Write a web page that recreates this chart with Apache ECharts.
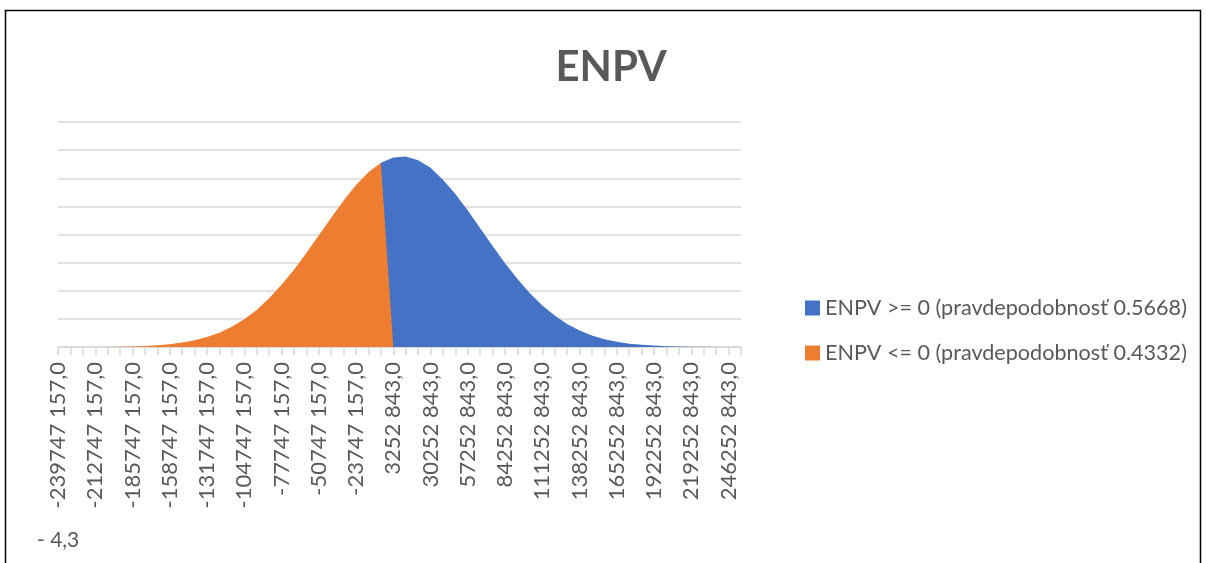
<!DOCTYPE html>
<html>
<head>
<meta charset="utf-8">
<script src="https://cdn.jsdelivr.net/npm/echarts@6/dist/echarts.min.js"></script>
<style>
html,body{margin:0;padding:0;background:#fff;}
#c{width:1206px;height:563px;}
</style>
</head>
<body>
<div id="c"></div>
<script>
const categories = [
"-239747 157,0","-230747 157,0","-221747 157,0","-212747 157,0","-203747 157,0","-194747 157,0",
"-185747 157,0","-176747 157,0","-167747 157,0","-158747 157,0","-149747 157,0","-140747 157,0",
"-131747 157,0","-122747 157,0","-113747 157,0","-104747 157,0","-95747 157,0","-86747 157,0",
"-77747 157,0","-68747 157,0","-59747 157,0","-50747 157,0","-41747 157,0","-32747 157,0",
"-23747 157,0","-14747 157,0","-5747 157,0","3252 843,0","12252 843,0","21252 843,0",
"30252 843,0","39252 843,0","48252 843,0","57252 843,0","66252 843,0","75252 843,0",
"84252 843,0","93252 843,0","102252 843,0","111252 843,0","120252 843,0","129252 843,0",
"138252 843,0","147252 843,0","156252 843,0","165252 843,0","174252 843,0","183252 843,0",
"192252 843,0","201252 843,0","210252 843,0","219252 843,0","228252 843,0","237252 843,0",
"246252 843,0","255252 843,0"
];

const seriesNames = ["ENPV >= 0 (pravdepodobnosť 0.5668)", "ENPV <= 0 (pravdepodobnosť 0.4332)"];

// ENPV >= 0 (blue): empty before category 26
const positiveValues = [
null,null,null,null,null,null,null,null,null,null,
null,null,null,null,null,null,null,null,null,null,
null,null,null,null,null,null,
6.55,6.74,6.77,6.64,6.37,5.95,5.44,4.85,4.22,3.59,
2.98,2.42,1.91,1.48,1.12,0.82,0.59,0.41,0.28,0.19,
0.12,0.08,0.05,0.03,0.018,0.01,0.006,0.003,0.002,0.001
];

// ENPV <= 0 (orange): ends at category 27
const negativeValues = [
0,0,0,0.001,0.002,0.008,0.018,0.035,0.06,0.1,
0.16,0.24,0.36,0.51,0.72,0.99,1.32,1.73,2.21,2.75,
3.34,3.97,4.60,5.21,5.76,6.21,6.55,0,
null,null,null,null,null,null,null,null,null,null,
null,null,null,null,null,null,null,null,null,null,
null,null,null,null,null,null,null,null
];

const FONT = 'Lato, "Open Sans", sans-serif';
const TXT = '#595959';

const chart = echarts.init(document.getElementById('c'), null, {renderer: 'canvas'});
chart.setOption({
  animation: false,
  backgroundColor: '#fff',
  title: {
    text: 'ENPV',
    left: 606, top: 62, textAlign: 'center', textVerticalAlign: 'middle',
    textStyle: {fontFamily: FONT, fontWeight: 'bold', fontSize: 42, color: TXT}
  },
  legend: {
    orient: 'vertical',
    left: 800, top: 292,
    itemWidth: 15, itemHeight: 15, itemGap: 23,
    icon: 'rect',
    data: seriesNames,
    textStyle: {fontFamily: FONT, fontSize: 21.6, color: TXT, padding: [0,0,0,0]}
  },
  grid: {left: 58, top: 122, width: 683, height: 225, containLabel: false},
  xAxis: {
    type: 'category',
    data: categories,
    boundaryGap: false,
    axisLine: {lineStyle: {color: '#d9d9d9', width: 1.5}},
    axisTick: {show: true, interval: 0, length: 8, lineStyle: {color: '#d9d9d9', width: 1.5}},
    axisLabel: {interval: 2, rotate: 90, margin: 15, fontFamily: FONT, fontSize: 22, color: TXT},
    splitLine: {show: false}
  },
  yAxis: {
    type: 'value',
    min: 0, max: 8, interval: 1,
    axisLine: {show: false},
    axisTick: {show: false},
    axisLabel: {show: false},
    splitLine: {lineStyle: {color: '#d9d9d9', width: 1.5}}
  },
  series: [
    {
      name: seriesNames[0], type: 'line', data: positiveValues,
      symbol: 'none', showSymbol: false, connectNulls: false,
      lineStyle: {width: 0}, itemStyle: {color: '#4472C4'},
      areaStyle: {color: '#4472C4', opacity: 1}
    },
    {
      name: seriesNames[1], type: 'line', data: negativeValues,
      symbol: 'none', showSymbol: false, connectNulls: false,
      lineStyle: {width: 0}, itemStyle: {color: '#ED7D31'},
      areaStyle: {color: '#ED7D31', opacity: 1}
    }
  ],
  graphic: [
    {type: 'rect', shape: {x: 5.5, y: 10.5, width: 1195, height: 600},
     style: {fill: 'none', stroke: '#000', lineWidth: 1.5}, silent: true},
    {type: 'text', left: 37, top: 530,
     style: {text: '- 4,3', font: '21px ' + FONT, fill: TXT}}
  ]
});
</script>
</body>
</html>
